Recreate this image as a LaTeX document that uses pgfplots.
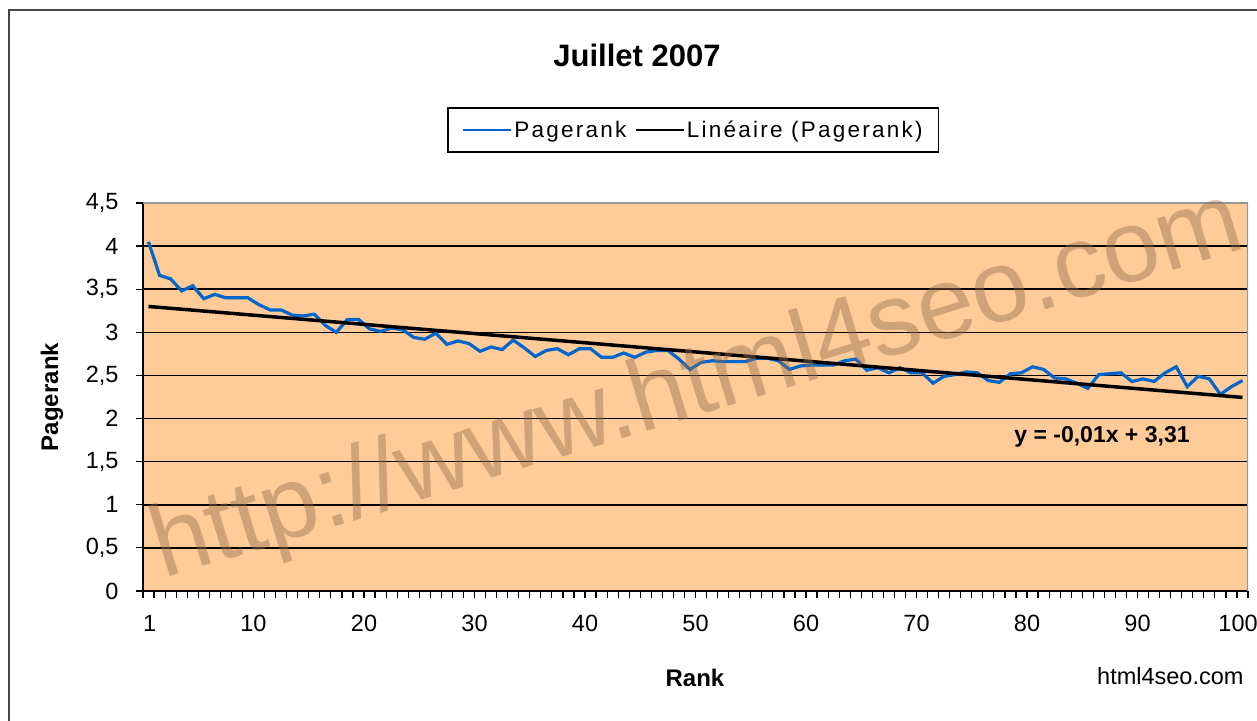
\documentclass[border=0pt]{standalone}
\usepackage{fontspec}
\setmainfont{Liberation Sans}
\newfontfamily\legfont[LetterSpace=10]{Liberation Sans}
\usepackage{pgfplots}
\usepackage{pgfplotstable}
\pgfplotsset{compat=1.18}
\definecolor{bgorange}{RGB}{255,204,153}
\definecolor{prblue}{RGB}{0,102,204}
\definecolor{wmbrown}{RGB}{150,110,80}
\definecolor{framegray}{RGB}{70,70,70}
\definecolor{plotborder}{RGB}{150,150,150}

\pgfplotstableread{
i v
1 4.05
2 3.66
3 3.62
4 3.48
5 3.54
6 3.39
7 3.44
8 3.40
9 3.40
10 3.40
11 3.32
12 3.26
13 3.26
14 3.20
15 3.19
16 3.21
17 3.08
18 3.00
19 3.15
20 3.15
21 3.04
22 3.01
23 3.05
24 3.03
25 2.94
26 2.92
27 2.99
28 2.86
29 2.90
30 2.87
31 2.78
32 2.83
33 2.80
34 2.91
35 2.82
36 2.72
37 2.79
38 2.81
39 2.74
40 2.81
41 2.81
42 2.71
43 2.71
44 2.76
45 2.71
46 2.77
47 2.79
48 2.79
49 2.69
50 2.57
51 2.65
52 2.67
53 2.66
54 2.66
55 2.66
56 2.70
57 2.70
58 2.67
59 2.57
60 2.61
61 2.62
62 2.62
63 2.62
64 2.67
65 2.69
66 2.56
67 2.59
68 2.53
69 2.59
70 2.53
71 2.53
72 2.41
73 2.49
74 2.51
75 2.54
76 2.53
77 2.44
78 2.42
79 2.52
80 2.53
81 2.60
82 2.57
83 2.47
84 2.46
85 2.41
86 2.35
87 2.51
88 2.52
89 2.53
90 2.43
91 2.46
92 2.43
93 2.53
94 2.60
95 2.37
96 2.49
97 2.46
98 2.28
99 2.37
100 2.44
}\prdata

\begin{document}
\begin{tikzpicture}[x=1bp,y=1bp]
\useasboundingbox (0,0) rectangle (1257,721);
\fill[white] (0,0) rectangle (1257,721);
\draw[framegray, line width=2.2bp] (9,-10) -- (9,711) -- (1270,711);
\begin{axis}[
  at={(143bp,130bp)}, anchor=south west,
  scale only axis, width=1105bp, height=388bp,
  xmin=0.5, xmax=100.5, ymin=0, ymax=4.5,
  axis background/.style={fill=bgorange},
  axis x line*=bottom, axis y line*=left,
  axis line style={black, line width=1.4bp},
  xtick={0.5,1.5,...,100.5}, xticklabels={},
  extra x ticks={1.1,10.5,20.5,30.5,40.5,50.5,60.5,70.5,80.5,90.5,99.6},
  extra x tick labels={1,10,20,30,40,50,60,70,80,90,100},
  extra x tick style={major tick length=0pt, xticklabel style={yshift=-21bp}},
  ytick={0,0.5,...,4.5},
  yticklabels={0,{0,5},1,{1,5},2,{2,5},3,{3,5},4,{4,5}},
  yticklabel style={xshift=-14bp},
  ymajorgrids, grid style={black, line width=1.6bp},
  tick align=outside, major tick length=7bp,
  tick style={black, line width=1.2bp},
  ticklabel style={font=\fontsize{23.5bp}{27bp}\selectfont},
  legend columns=2,
  legend style={at={(0.498,1.188)}, anchor=center, draw=black, line width=1.2bp,
    inner xsep=14bp, inner ysep=11bp,
    font=\legfont\fontsize{22.5bp}{26bp}\selectfont,
    /tikz/every even column/.append style={column sep=6bp}},
  legend image code/.code={\draw[#1, line width=2.4bp] (0bp,0bp) -- (48bp,0bp);},
]
\addplot[prblue, line width=3.2bp] table[x=i,y=v]{\prdata};
\addlegendentry{Pagerank}
\addplot[black, line width=3.5bp] coordinates {(1,3.30) (100,2.245)};
\addlegendentry{Linéaire (Pagerank)}
\draw[plotborder, line width=1.6bp] (rel axis cs:0,1) -- (rel axis cs:1,1) -- (rel axis cs:1,0);
\end{axis}
\node[rotate=17, anchor=base west, text=wmbrown, opacity=0.44, font=\fontsize{102bp}{106bp}\selectfont] at (160,141) {http://www.html4seo.com};
\node[font=\bfseries\fontsize{31bp}{36bp}\selectfont] at (637,666) {Juillet 2007};
\node[rotate=90, font=\bfseries\fontsize{24bp}{28bp}\selectfont] at (52,324) {Pagerank};
\node[font=\bfseries\fontsize{24bp}{28bp}\selectfont] at (695,43) {Rank};
\node[anchor=east, font=\fontsize{23.5bp}{28bp}\selectfont] at (1247,45) {html4seo.com};
\node[font=\bfseries\fontsize{23bp}{27bp}\selectfont] at (1102,284) {y = -0,01x + 3,31};
\end{tikzpicture}
\end{document}
